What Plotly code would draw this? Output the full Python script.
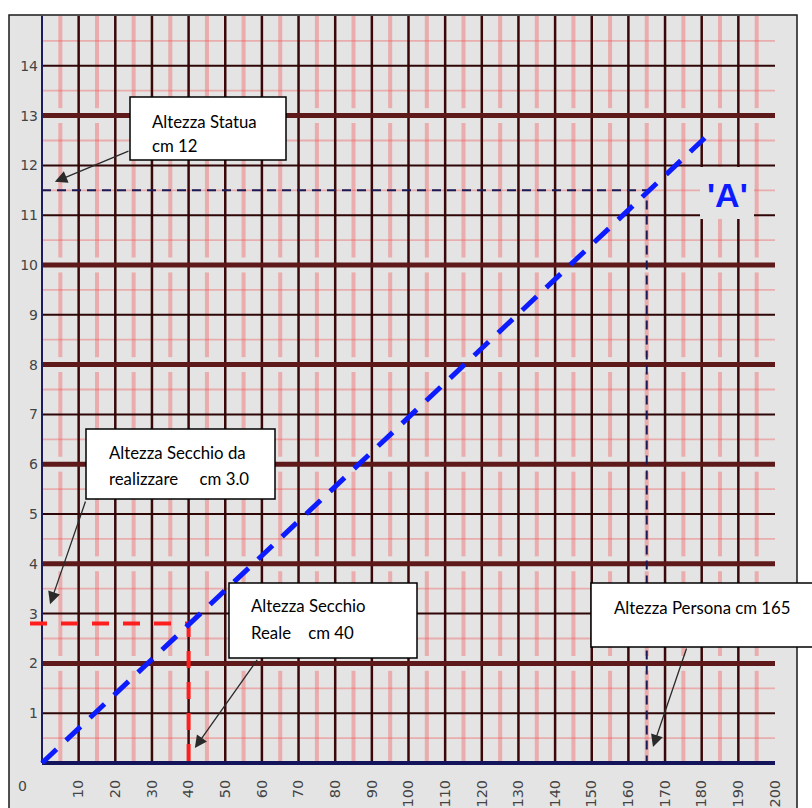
import plotly.graph_objects as go

# ---------------- data ----------------
x_ticks = [10, 20, 30, 40, 50, 60, 70, 80, 90, 100, 110, 120, 130, 140, 150, 160, 170, 180, 190, 200]
y_ticks = [1, 2, 3, 4, 5, 6, 7, 8, 9, 10, 11, 12, 13, 14]
scale_x = [0, 183]          # altezza reale (cm)
scale_y = [0, 12.7]         # altezza modello (cm)
secchio_reale = 40
secchio_modello = 2.8
persona_reale = 165
statua_modello = 11.5

minor_x = [5 + 10 * i for i in range(20)]
minor_y = [0.5 + i for i in range(15)]
major_x = [10 * i for i in range(1, 20)]
thin_y = [1, 3, 5, 7, 9, 11, 12, 14]
thick_y = [2, 4, 6, 8, 10, 13]
X_MAX, Y_MAX = 200, 15

# ---------------- geometry helpers ----------------
W, H = 812, 808
ML, MR, MT, MB = 0, 35, 16, 32
PW, PH = W - ML - MR, H - MT - MB
PX0, PY0 = 42, 763              # pixel of data origin
SX, SY = 3.665, 49.8            # px per unit
xa = (30 - PX0) / SX
xb = xa + (W - MR - 30) / SX
ya = -(776 - PY0) / SY
yb = ya + PH / SY


def px(p):
    return (p - ML) / PW


def py(p):
    return (H - MB - p) / PH


def segs_v(xs, pieces):
    X, Y = [], []
    for x in xs:
        for (a, b) in pieces:
            X += [x, x, None]
            Y += [a, b, None]
    return X, Y


def segs_h(ys, x0, x1):
    X, Y = [], []
    for y in ys:
        X += [x0, x1, None]
        Y += [y, y, None]
    return X, Y


fig = go.Figure()

# pink vertical (with gaps at thick lines)
gap = 0.15
bounds = [0] + thick_y + [Y_MAX]
pieces = []
for i in range(len(bounds) - 1):
    a = bounds[i] + (gap if i > 0 else 0)
    b = bounds[i + 1] - (gap if i + 1 < len(bounds) - 1 else 0)
    pieces.append((a, b))
X, Y = segs_v(minor_x, pieces)
fig.add_trace(go.Scatter(x=X, y=Y, mode="lines", line=dict(color="rgba(240,115,115,0.5)", width=4), hoverinfo="skip"))
X, Y = segs_h(minor_y, 0, X_MAX)
fig.add_trace(go.Scatter(x=X, y=Y, mode="lines", line=dict(color="rgba(240,90,90,0.4)", width=1.8), hoverinfo="skip"))
# dark grid
X, Y = segs_v(major_x, [(0, Y_MAX)])
fig.add_trace(go.Scatter(x=X, y=Y, mode="lines", line=dict(color="#3a0808", width=2.5), hoverinfo="skip"))
X, Y = segs_h(thin_y, 0, X_MAX)
fig.add_trace(go.Scatter(x=X, y=Y, mode="lines", line=dict(color="#2e0606", width=2), hoverinfo="skip"))
X, Y = segs_h(thick_y, 0, X_MAX)
fig.add_trace(go.Scatter(x=X, y=Y, mode="lines", line=dict(color="#5e1a1a", width=5), hoverinfo="skip"))
# axes lines
fig.add_trace(go.Scatter(x=[0, 0], y=[0, Y_MAX], mode="lines", line=dict(color="#1c1c5e", width=2), hoverinfo="skip"))
fig.add_trace(go.Scatter(x=[0, X_MAX], y=[0, 0], mode="lines", line=dict(color="#14145a", width=4), hoverinfo="skip"))

# navy dashed: persona -> statua
fig.add_trace(go.Scatter(x=[0, persona_reale, persona_reale], y=[statua_modello, statua_modello, 0],
                         mode="lines", line=dict(color="#1a1a55", width=2, dash="9px,6px"), hoverinfo="skip"))
# red dashed: secchio
fig.add_trace(go.Scatter(x=[xa, secchio_reale, secchio_reale], y=[secchio_modello, secchio_modello, ya + 0.05],
                         mode="lines", line=dict(color="#ff1e1e", width=4, dash="17px,14px"), hoverinfo="skip"))
# blue dashed scale line 'A'
fig.add_trace(go.Scatter(x=scale_x, y=scale_y, mode="lines",
                         line=dict(color="#0c1cff", width=5, dash="20px,13px"), hoverinfo="skip"))

shapes = []
annotations = []

# frame
shapes.append(dict(type="rect", xref="paper", yref="paper", x0=px(9), x1=px(797), y0=py(830), y1=py(15),
                   fillcolor="#e4e4e4", line=dict(color="#1a1a1a", width=1.5), layer="below"))

# 'A' label with gray patch
shapes.append(dict(type="rect", xref="paper", yref="paper", x0=px(700), x1=px(754), y0=py(219), y1=py(167),
                   fillcolor="#e4e4e4", line=dict(width=0), layer="above"))
annotations.append(dict(xref="paper", yref="paper", x=px(727), y=py(195), text="<b>'A'</b>", showarrow=False,
                        font=dict(family="Liberation Sans", size=34, color="#0c1cff"), xanchor="center", yanchor="middle"))

# text boxes
boxes = [
    ((130, 97, 286, 160), 150, [(121, "Altezza Statua"), (145, "cm 12")]),
    ((86, 429, 275, 499), 107, [(452, "Altezza Secchio da"), (479, "realizzare\u00a0\u00a0\u00a0\u00a0\u00a0cm 3.0")]),
    ((229, 583, 417, 658), 249, [(605, "Altezza Secchio"), (632, "Reale\u00a0\u00a0\u00a0\u00a0cm 40")]),
    ((591, 583, 830, 647), 612, [(607, "Altezza Persona cm 165")]),
]
for (x0, y0, x1, y1), tx, lines in boxes:
    shapes.append(dict(type="rect", xref="paper", yref="paper", x0=px(x0), x1=px(x1), y0=py(y1), y1=py(y0),
                       fillcolor="white", line=dict(color="black", width=1.5), layer="above"))
    for ty, t in lines:
        annotations.append(dict(xref="paper", yref="paper", x=px(tx), y=py(ty), text=t, showarrow=False,
                                xanchor="left", yanchor="middle",
                                font=dict(family="Lato", size=16.8, color="black")))

# arrows (tail -> tip in data units)
arrows = [
    ((24, 12.3), (3.5, statua_modello + 0.17)),
    ((12, 5.28), (2.2, secchio_modello + 0.39)),
    ((59, 2.1), (secchio_reale + 1.7, 0.3)),
    ((176, 2.33), (persona_reale + 1.7, 0.32)),
]
for (tx, ty), (hx, hy) in arrows:
    annotations.append(dict(xref="x", yref="y", axref="x", ayref="y", x=hx, y=hy, ax=tx, ay=ty, text="",
                            showarrow=True, arrowhead=2, arrowsize=1.9, arrowwidth=1.3, arrowcolor="#2a2a2a",
                            standoff=0))

# '0' x label
annotations.append(dict(xref="paper", yref="paper", x=px(22), y=py(786), text="0", showarrow=False,
                        font=dict(family="DejaVu Sans", size=14, color="#444444"), xanchor="center", yanchor="middle"))

fig.update_layout(
    width=W, height=H, autosize=False,
    margin=dict(l=ML, r=MR, t=MT, b=MB),
    paper_bgcolor="white", plot_bgcolor="rgba(0,0,0,0)",
    showlegend=False,
    shapes=shapes, annotations=annotations,
    xaxis=dict(range=[xa, xb], domain=[px(30), 1], tickvals=x_ticks, ticktext=[str(v) for v in x_ticks],
               tickangle=-90, showgrid=False, zeroline=False, showline=False, ticks="",
               tickfont=dict(family="DejaVu Sans", size=14.5, color="#444444"), automargin=False),
    yaxis=dict(range=[ya, yb], anchor="free", position=px(38), tickvals=y_ticks,
               ticktext=[str(v) for v in y_ticks], showgrid=False, zeroline=False, showline=False, ticks="",
               tickfont=dict(family="DejaVu Sans", size=14, color="#444444"), automargin=False),
)

fig.write_html("out.html", config={"displayModeBar": False},
               post_script="document.body.style.margin='0';document.body.style.overflow='hidden';")
